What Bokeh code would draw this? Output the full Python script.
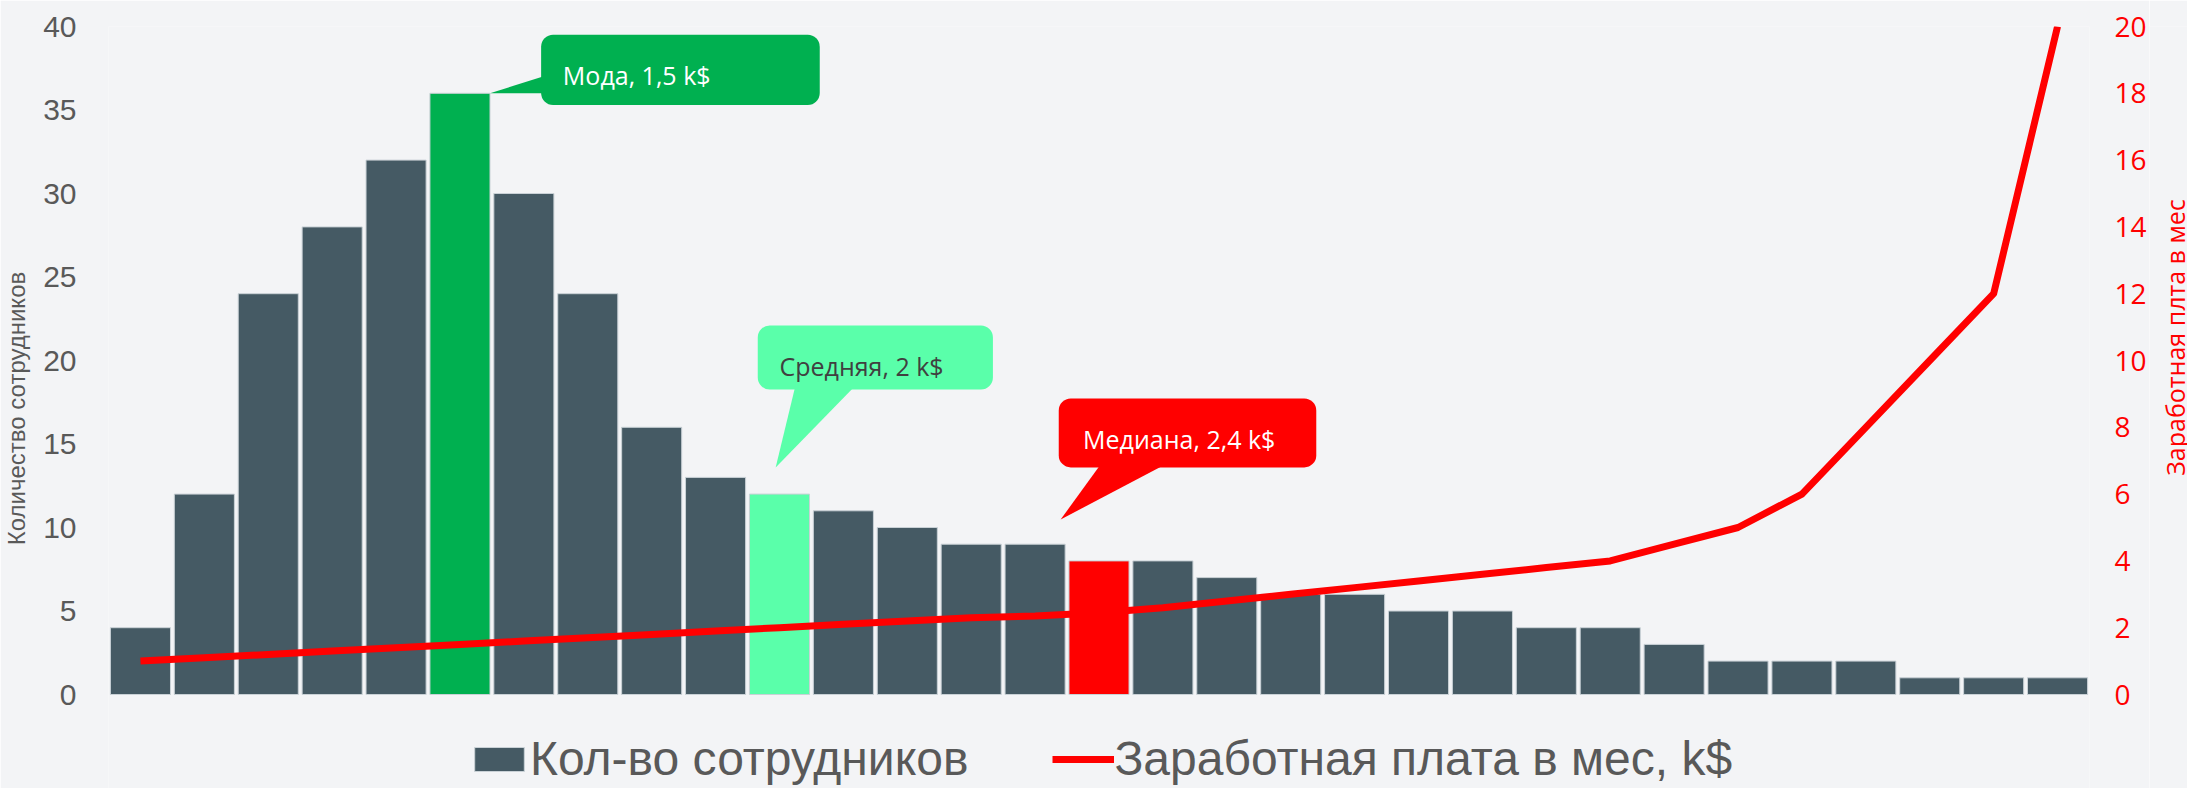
import math
from bokeh.plotting import figure
from bokeh.layouts import row
from bokeh.models import (ColumnDataSource, Range1d, LinearAxis, FixedTicker,
                          BoxAnnotation, Label, Legend, LegendItem)
from bokeh.embed import file_html
from bokeh.resources import INLINE

# ---- data ----
counts = [4, 12, 24, 28, 32, 36, 30, 24, 16, 13, 12, 11, 10, 9, 9, 8,
          8, 7, 6, 6, 5, 5, 4, 4, 3, 2, 2, 2, 1, 1, 1]
salary = [1.0, 1.1, 1.2, 1.3, 1.4, 1.5, 1.6, 1.7, 1.8, 1.9, 2.0, 2.1, 2.2, 2.3, 2.35, 2.45,
          2.6, 2.8, 3.0, 3.2, 3.4, 3.6, 3.8, 4.0, 4.5, 5.0, 6.0, 8.0, 10.0, 12.0, 20.0]
left_ticks = [0, 5, 10, 15, 20, 25, 30, 35, 40]
right_ticks = [0, 2, 4, 6, 8, 10, 12, 14, 16, 18, 20]
mode_idx, mean_idx, median_idx = 5, 10, 15
bar_label = "Кол-во сотрудников"
line_label = "Заработная плата в мес, k$"
left_title = "Количество сотрудников"
right_title = "Заработная плта в мес"
callout_text = ["Мода, 1,5 k$", "Средняя, 2 k$", "Медиана, 2,4 k$"]

# ---- styles ----
BG = "#f3f4f6"
BAR = "#455a64"
GREEN = "#00b050"
MINT = "#5affaa"
RED = "#ff0000"
GREY = "#595959"

W_MAIN, W_TITLE, H = 2149, 38, 790
TOP, ZERO = 26, 694          # figure rows of the axis maximum and of zero
L_MAX, R_MAX = 40, 20
l_start = -(H - ZERO) / (ZERO - TOP) * L_MAX
r_start = -(H - ZERO) / (ZERO - TOP) * R_MAX

idx = list(range(len(counts)))
colors = [BAR] * len(counts)
colors[mode_idx] = GREEN
colors[mean_idx] = MINT
colors[median_idx] = RED

src = ColumnDataSource(dict(x=idx, top=counts, color=colors))
lsrc = ColumnDataSource(dict(x=idx, y=salary))

p = figure(width=W_MAIN, height=H, output_backend="svg", toolbar_location=None,
           x_range=Range1d(-0.5, len(counts) - 0.5), y_range=Range1d(l_start, L_MAX),
           min_border_left=101, min_border_right=60, min_border_top=TOP, min_border_bottom=0,
           background_fill_color=BG, border_fill_color=BG, outline_line_color=None)
p.extra_y_ranges = {"sal": Range1d(r_start, R_MAX)}
p.xgrid.visible = False
p.ygrid.visible = False
p.xaxis.visible = False

ya = p.yaxis[0]
ya.ticker = FixedTicker(ticks=left_ticks)
ya.axis_line_color = None
ya.major_tick_line_color = None
ya.minor_tick_line_color = None
ya.major_label_standoff = 26
ya.major_label_text_font = "Liberation Sans"
ya.major_label_text_font_size = "30px"
ya.major_label_text_color = GREY
ya.axis_label = left_title
ya.axis_label_text_font = "Liberation Sans"
ya.axis_label_text_font_size = "24px"
ya.axis_label_text_font_style = "normal"
ya.axis_label_text_color = GREY
ya.axis_label_standoff = 10

ra = LinearAxis(y_range_name="sal", ticker=FixedTicker(ticks=right_ticks),
                axis_line_color=None, major_tick_line_color=None, minor_tick_line_color=None,
                major_label_standoff=19, major_label_text_font="Open Sans",
                major_label_text_font_size="28px", major_label_text_color=RED)
p.add_layout(ra, "right")

bars = p.vbar(x="x", top="top", width=0.94, fill_color="color", line_color="#c9d1d6",
              line_width=1, source=src)
line = p.line(x="x", y="y", source=lsrc, y_range_name="sal", line_color=RED,
              line_width=7, line_join="round")

# ---- callouts (positions in data units) ----
boxes = [(6.27, 10.63, 35.3, 39.5), (9.66, 13.34, 18.26, 22.1), (14.37, 18.4, 13.6, 17.72)]
pointers_x = [[mode_idx + 0.47, 6.35, 6.35], [9.94, 10.25, 11.19], [14.4, 15.03, 16.05]]
pointers_y = [[36.0, 37.07, 36.0], [13.6, 18.5, 18.5], [10.48, 13.8, 13.8]]
text_pos = [(6.61, 37.1), (10.0, 19.7), (14.75, 15.27)]
fills = [GREEN, MINT, RED]
tcolors = ["#ffffff", "#404040", "#ffffff"]

p.patches(xs=pointers_x, ys=pointers_y, fill_color=fills, line_color=None)
for (x0, x1, y0, y1), fc in zip(boxes, fills):
    p.add_layout(BoxAnnotation(left=x0, right=x1, bottom=y0, top=y1, fill_color=fc,
                               fill_alpha=1, line_color=None, border_radius=12))
for (tx, ty), t, tc in zip(text_pos, callout_text, tcolors):
    p.add_layout(Label(x=tx, y=ty, text=t, text_font="Open Sans", text_font_size="25px",
                       text_color=tc, text_baseline="alphabetic"))

legend = Legend(items=[LegendItem(label=bar_label, renderers=[bars], index=0),
                       LegendItem(label=line_label, renderers=[line])],
                orientation="horizontal", location=(360, 4),
                glyph_width=62, glyph_height=30, label_standoff=0, spacing=84,
                padding=0, margin=0, border_line_color=None, background_fill_alpha=0,
                label_text_font="Liberation Sans", label_text_font_size="48px",
                label_text_color=GREY)
p.add_layout(legend)

# ---- right-hand axis title (reads bottom to top) ----
t = figure(width=W_TITLE, height=H, output_backend="svg", toolbar_location=None,
           x_range=Range1d(0, 1), y_range=Range1d(0, 1),
           min_border_left=0, min_border_right=0, min_border_top=0, min_border_bottom=0,
           background_fill_color=BG, border_fill_color=BG, outline_line_color=None)
t.axis.visible = False
t.grid.visible = False
t.add_layout(Label(x=0.684, y=0.593, text=right_title, angle=math.pi / 2,
                   text_align="center", text_baseline="alphabetic", text_font="Open Sans",
                   text_font_size="25px", text_color=RED))

layout = row(p, t, spacing=0)
open("out.html", "w").write(file_html(layout, INLINE))
